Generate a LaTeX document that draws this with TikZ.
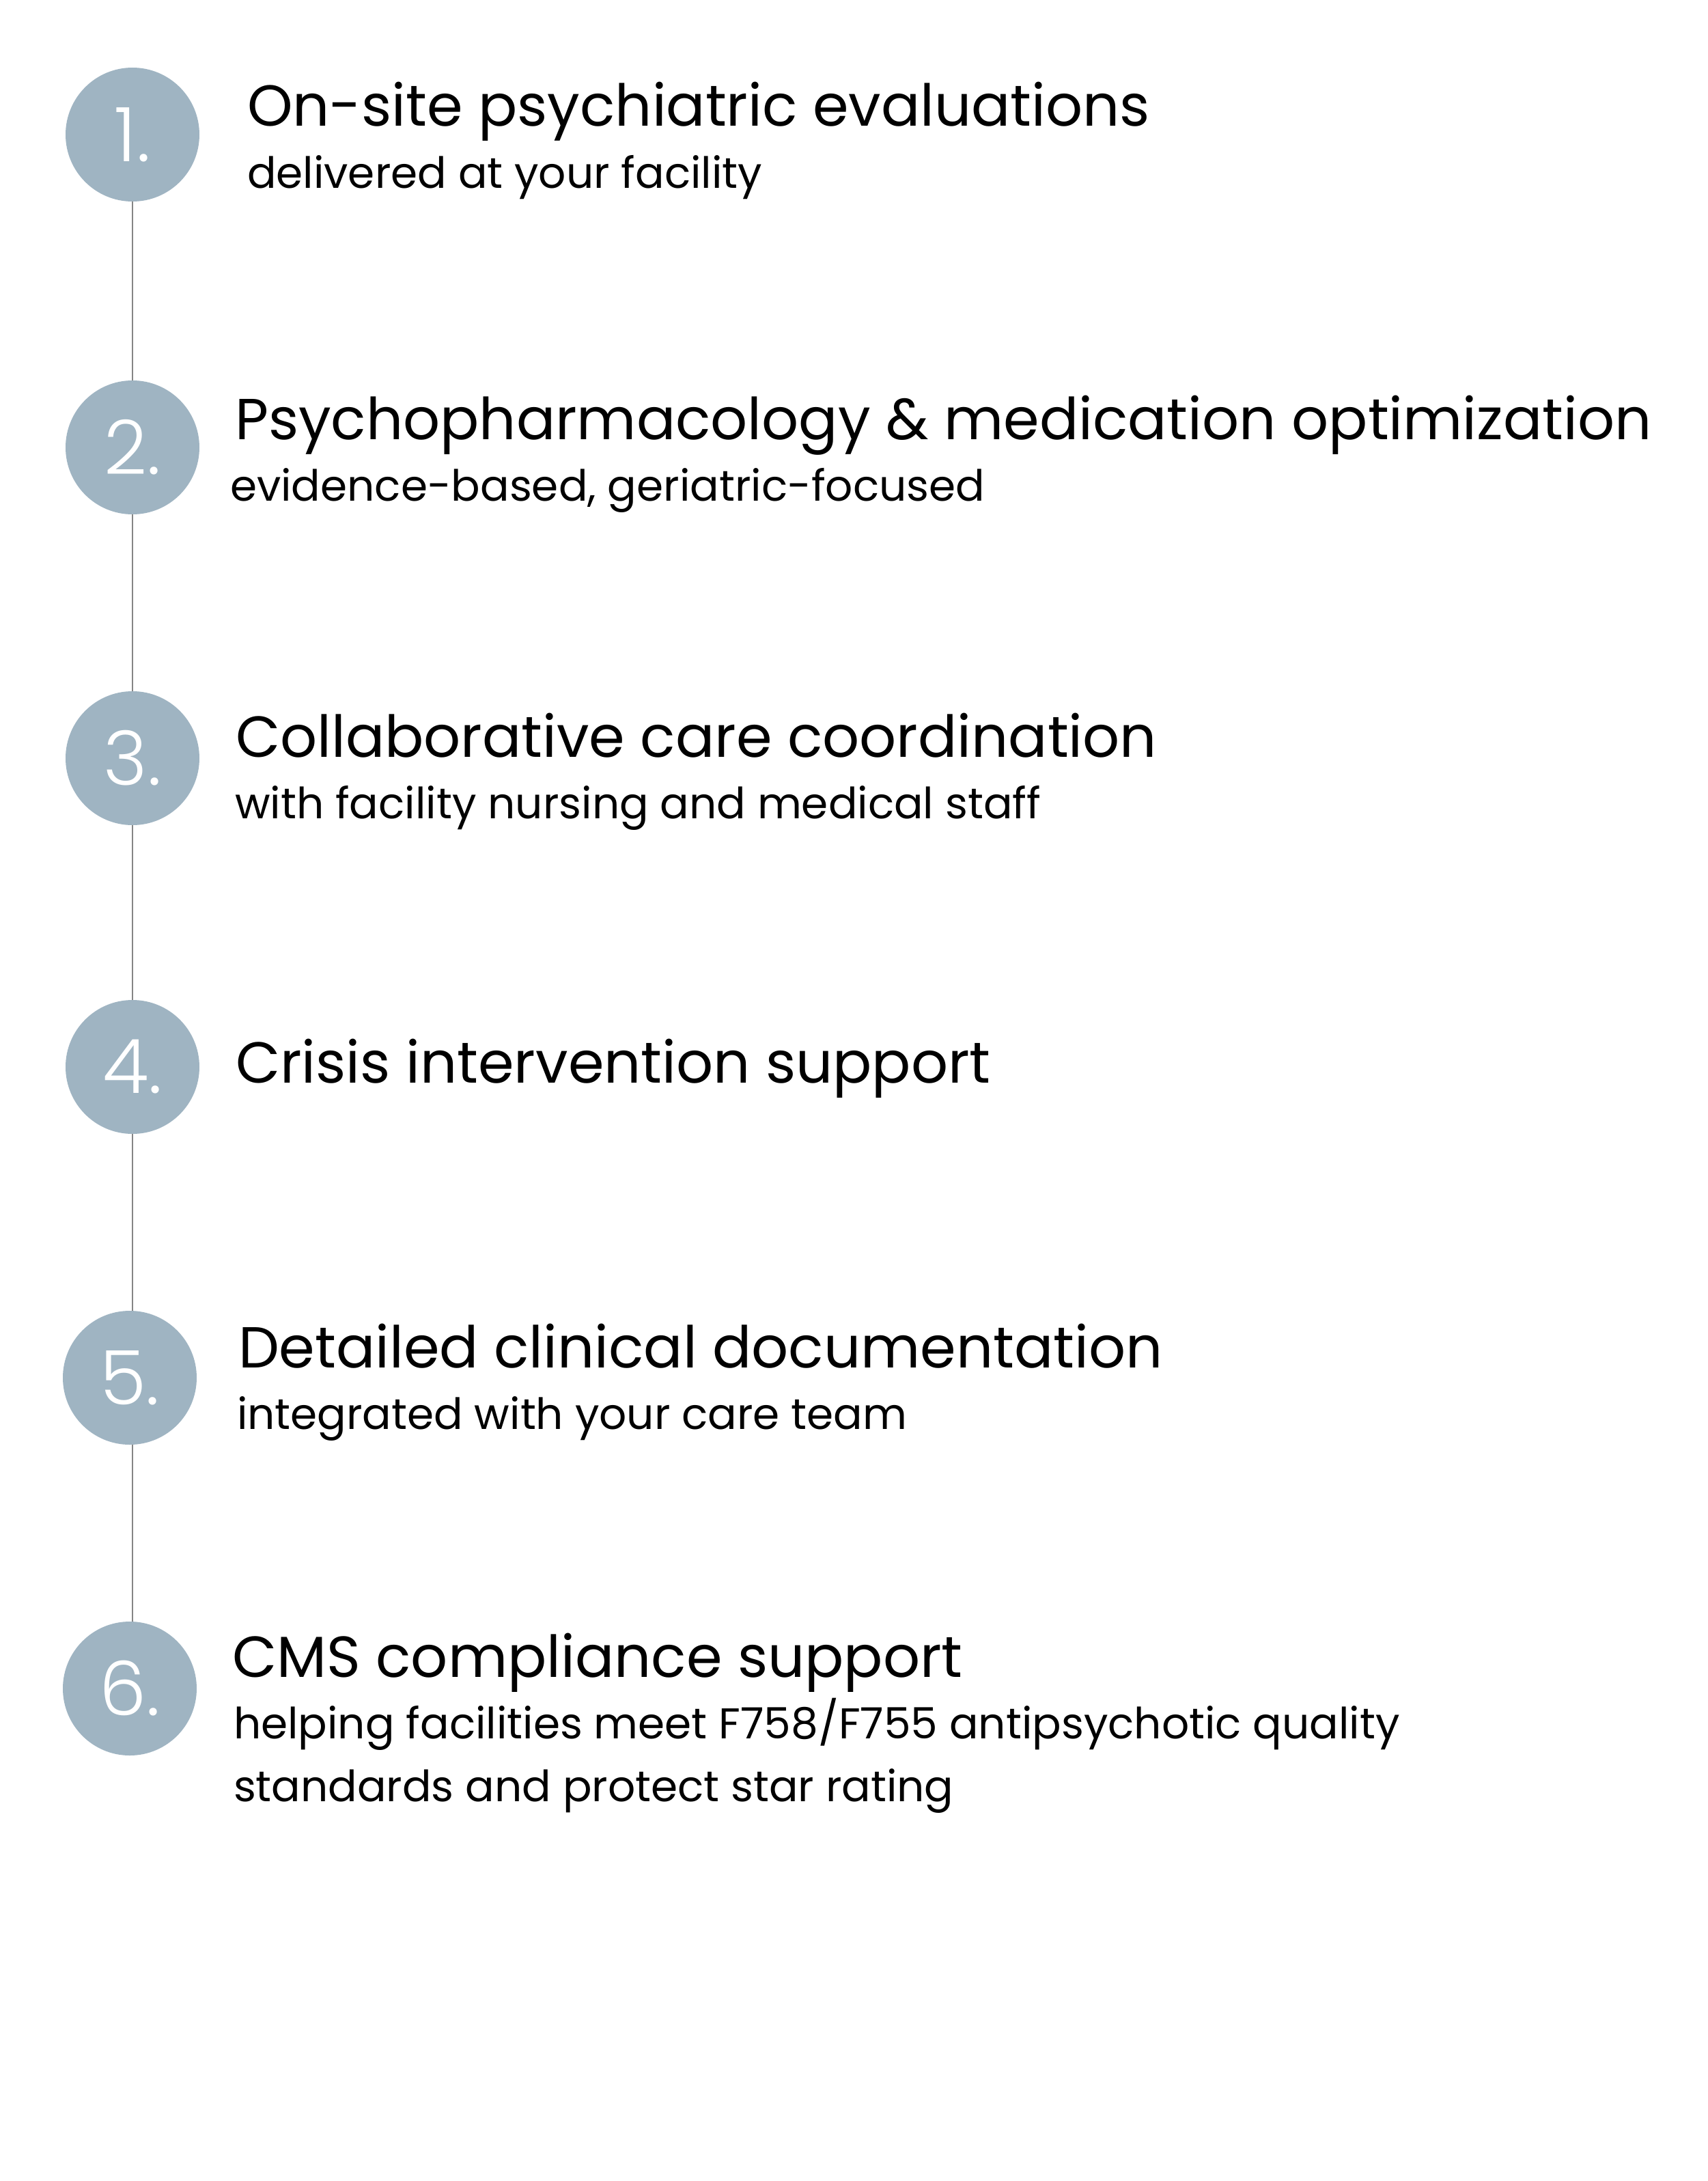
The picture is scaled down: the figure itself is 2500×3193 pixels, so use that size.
\documentclass[tikz,border=0pt]{standalone}
\usepackage{fontspec}
\setmainfont{Poppins}
\newfontfamily\numfont{Poppins}[UprightFont=* Light]
\definecolor{circ}{HTML}{9FB4C2}
\definecolor{linkgray}{HTML}{858585}
\begin{document}
\begin{tikzpicture}[x=0.3pt,y=-0.3pt,
  stepcircle/.style={circle, fill=circ, minimum size=58.8pt, inner sep=0pt, outer sep=0pt, text=white, font=\numfont\fontsize{33}{33}\selectfont},
  title/.style={anchor=base west, inner sep=0pt, outer sep=0pt, font=\fontsize{25.4}{30}\selectfont},
  sub/.style={anchor=base west, inner sep=0pt, outer sep=0pt, font=\fontsize{18.9}{23}\selectfont},
  link/.style={draw=linkgray, line width=0.6pt}]
\useasboundingbox (0,0) rectangle (2500,3193);
\fill[white] (0,0) rectangle (2500,3193);

\node[stepcircle] (c1) at (194,197) {1.};
\node[stepcircle] (c2) at (194,655) {2.};
\node[stepcircle] (c3) at (194,1110) {3.};
\node[stepcircle] (c4) at (194,1562) {4.};
\node[stepcircle] (c5) at (190,2017) {5.};
\node[stepcircle] (c6) at (190,2472) {6.};

\draw[link] (c1.south) -- (c2.north);
\draw[link] (c2.south) -- (c3.north);
\draw[link] (c3.south) -- (c4.north);
\draw[link] (c4.south) -- (c4.south |- c5.north);
\draw[link] (c4.south |- c5.south) -- (c4.south |- c6.north);

\node[title] (t1) at (362,185) {On-site psychiatric evaluations};
\node[sub] (s1) at (362,275) {delivered at your facility};
\node[title] (t2) at (344,643) {Psychopharmacology \& medication optimization};
\node[sub] (s2) at (337,733) {evidence-based, geriatric-focused};
\node[title] (t3) at (345,1108) {Collaborative care coordination};
\node[sub] (s3) at (344,1198) {with facility nursing and medical staff};
\node[title] (t4) at (345,1585) {Crisis intervention support};
\node[title] (t5) at (349,2002) {Detailed clinical documentation};
\node[sub] (s5) at (347,2092) {integrated with your care team};
\node[title] (t6) at (340,2455) {CMS compliance support};
\node[sub] (s6a) at (342,2545) {helping facilities meet F758/F755 antipsychotic quality};
\node[sub] (s6b) at (342,2637) {standards and protect star rating};
\end{tikzpicture}
\end{document}
